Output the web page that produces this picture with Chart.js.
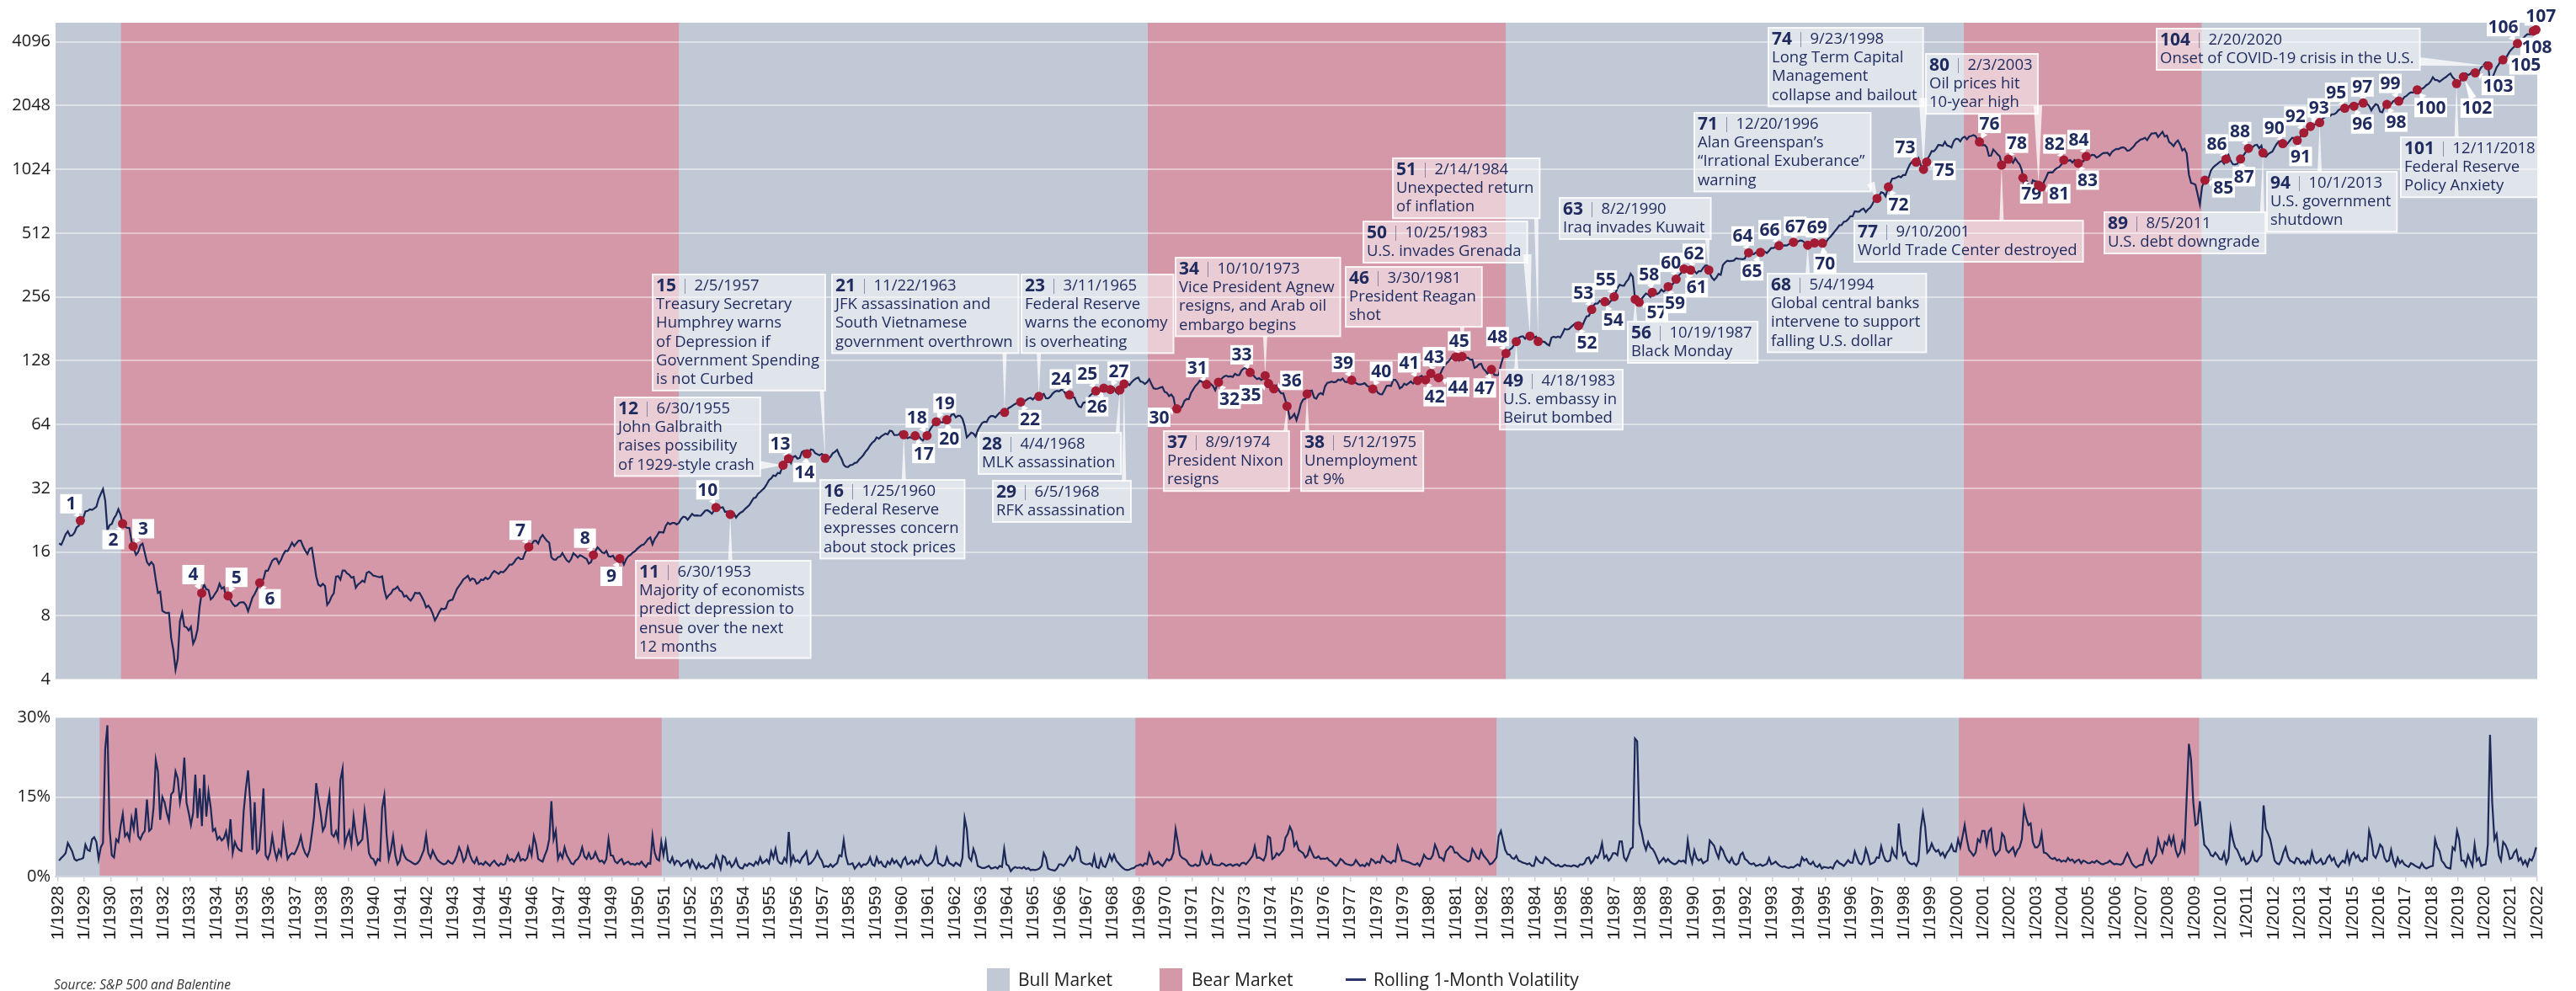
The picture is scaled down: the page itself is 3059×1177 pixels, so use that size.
<!DOCTYPE html>
<html><head><meta charset="utf-8">
<script src="https://cdn.jsdelivr.net/npm/chart.js@4.4.1/dist/chart.umd.min.js"></script>
<style>
html,body{margin:0;padding:0;background:#fff;}
#wrap{position:relative;width:3059px;height:1177px;overflow:hidden;font-family:'Open Sans',sans-serif;}
canvas{position:absolute;left:0;}
#c1{top:0;} #c2{top:830px;}
.src{position:absolute;left:64px;top:1158px;font-style:italic;font-size:15.5px;color:#333;line-height:22px;white-space:nowrap;}
.lg{position:absolute;top:1150px;height:27px;line-height:27px;font-size:21px;color:#222;white-space:nowrap;}
.sw{position:absolute;top:1150px;width:27px;height:27px;}
.ln{position:absolute;top:1162px;width:24px;height:3px;background:#2b3768;}
</style></head><body>
<div id="wrap">
<canvas id="c1" width="3059" height="830"></canvas>
<canvas id="c2" width="3059" height="347"></canvas>
<div class="src">Source: S&amp;P 500 and Balentine</div>
<div class="sw" style="left:1172px;background:#c1c8d6"></div>
<div class="lg" style="left:1209px">Bull Market</div>
<div class="sw" style="left:1377px;background:#d498a9"></div>
<div class="lg" style="left:1415px">Bear Market</div>
<div class="ln" style="left:1598px"></div>
<div class="lg" style="left:1631px">Rolling 1-Month Volatility</div>
</div>
<script>
// ===== DATA =====
const START_YEAR = 1928;
// S&P 500 monthly level, Jan 1928 - Dec 2021
const spx = [
17.53,17.32,18.25,19.40,20.00,19.04,19.16,19.73,20.87,21.29,23.04,23.14,
24.86,24.99,25.43,25.28,25.66,26.15,28.48,30.10,31.70,27.99,20.30,21.40,
21.71,23.07,23.94,25.46,23.94,21.52,21.06,20.79,20.78,17.92,16.62,15.51,
15.98,17.20,17.53,15.86,14.33,13.87,14.33,13.90,11.83,10.25,10.39,8.44,
8.30,8.23,8.26,6.28,5.51,4.45,5.01,7.53,8.26,7.12,7.05,6.82,
7.09,5.90,6.23,6.89,8.87,10.39,11.23,10.67,10.58,9.55,9.78,10.17,
10.54,11.32,10.74,10.92,9.81,9.94,9.47,9.10,8.88,8.95,9.20,9.26,
9.26,8.98,8.41,9.04,9.75,10.12,10.65,11.37,11.61,11.92,13.04,13.04,
13.76,14.55,14.86,14.88,14.09,14.69,15.56,16.20,16.15,16.86,17.69,17.06,
17.59,18.11,18.09,17.01,16.25,15.64,16.57,16.74,14.37,12.28,11.20,11.02,
11.31,11.04,9.00,9.30,9.86,10.21,12.24,12.31,11.84,13.07,13.07,12.69,
12.50,12.11,12.20,10.83,11.23,11.43,11.71,11.54,12.77,12.90,12.67,12.37,
12.30,12.22,12.15,12.27,10.58,9.67,9.99,10.20,10.63,10.73,10.98,10.52,
10.39,9.85,9.95,9.64,9.43,9.76,10.26,10.21,10.24,9.83,9.37,8.76,
8.93,8.65,8.18,7.60,7.93,8.33,8.64,8.59,8.68,9.32,9.47,9.52,
10.09,10.69,11.07,11.44,11.89,12.10,12.35,11.74,11.99,11.88,11.33,11.48,
11.85,11.77,12.10,11.89,12.10,12.67,13.00,12.81,12.60,12.91,12.82,13.10,
13.49,13.94,13.93,14.28,14.82,15.09,14.78,14.83,15.84,16.50,17.04,17.33,
18.02,18.07,17.53,18.66,19.25,18.58,18.05,17.70,15.09,14.75,14.69,15.13,
15.21,15.80,15.16,14.60,14.34,14.84,15.77,15.46,15.06,15.45,15.27,15.03,
14.83,14.10,14.30,15.40,16.15,16.82,16.42,15.94,15.76,16.19,15.29,15.19,
15.36,14.77,14.91,14.89,14.78,13.97,14.76,15.29,15.49,15.89,16.11,16.54,
16.88,17.21,17.35,17.84,18.44,18.74,17.38,18.43,19.08,19.87,19.83,19.75,
21.21,22.00,21.63,21.92,21.93,21.55,21.93,22.89,23.48,23.36,22.71,23.41,
24.19,23.75,23.81,23.74,23.73,24.38,25.08,25.18,24.78,24.26,25.03,26.04,
26.18,25.86,25.99,24.71,24.84,23.95,24.29,24.39,23.27,23.97,24.50,24.83,
25.46,26.02,26.57,27.63,28.73,28.96,30.13,30.73,31.45,32.18,33.44,34.97,
35.60,36.79,36.50,37.76,37.60,40.08,42.69,42.43,44.34,42.11,44.95,45.37,
44.15,44.43,47.49,48.05,46.54,46.27,48.78,48.49,46.84,46.24,45.76,46.44,
45.43,43.47,44.03,45.05,46.78,47.55,48.51,45.84,43.98,41.24,40.35,40.33,
41.12,41.26,42.11,42.34,43.70,44.75,45.98,47.70,48.96,50.95,52.50,53.49,
55.62,54.77,56.15,57.10,57.96,57.46,59.74,59.40,57.05,57.00,57.23,59.06,
58.03,55.78,55.02,55.73,55.22,57.26,55.84,56.51,54.81,53.73,55.47,56.80,
59.72,62.17,64.12,65.83,66.50,65.62,65.44,67.79,67.26,68.00,71.08,71.74,
69.07,70.22,70.29,68.05,62.99,55.63,56.97,58.52,58.00,56.17,60.04,62.64,
65.06,65.92,65.67,68.76,70.14,70.11,69.07,70.98,72.85,73.03,72.62,74.17,
76.45,77.39,78.80,79.94,80.72,80.24,83.22,82.00,83.41,84.85,85.44,83.96,
86.12,86.75,86.83,87.97,89.28,85.04,84.91,86.49,89.38,91.39,92.15,91.73,
93.32,92.69,88.88,91.60,86.78,86.06,85.84,80.65,77.81,77.13,80.99,81.33,
84.45,87.36,89.42,90.96,92.59,91.43,93.01,94.49,95.81,95.66,92.66,95.30,
95.04,90.75,89.09,95.67,97.87,100.53,100.30,98.11,101.34,103.76,105.40,106.48,
102.04,101.46,99.30,101.26,104.62,99.14,94.71,94.18,94.51,95.52,96.21,91.11,
90.31,87.16,88.65,85.95,76.06,75.59,75.72,77.92,82.58,84.37,84.28,90.05,
93.49,97.11,99.60,103.04,101.64,99.72,99.00,97.24,99.40,97.29,92.78,99.17,
103.30,105.24,107.69,108.81,107.65,108.01,107.21,111.01,109.39,109.56,115.05,117.50,
118.42,114.16,112.42,110.27,107.22,104.75,105.83,103.80,105.61,109.84,102.03,94.78,
96.11,93.45,97.44,92.46,89.67,89.79,82.82,76.03,68.12,69.44,71.74,67.07,
72.56,80.10,83.78,84.72,90.10,92.40,92.49,85.71,84.67,88.57,90.07,88.70,
96.86,100.64,101.08,101.93,101.16,101.77,104.20,103.29,105.45,101.89,101.19,104.66,
103.81,100.96,100.57,99.05,98.76,99.29,100.18,97.75,96.23,93.74,94.28,93.82,
90.25,88.98,88.82,92.71,97.41,97.66,97.19,103.92,103.86,100.58,94.71,96.11,
99.71,98.23,100.11,102.07,99.73,101.73,102.71,107.36,108.60,104.47,103.66,107.78,
110.87,115.34,104.69,102.97,107.69,114.55,119.83,123.50,126.51,130.22,135.65,133.48,
132.97,128.40,133.19,134.43,131.73,132.28,129.13,129.63,118.27,119.80,122.92,123.79,
117.28,114.50,110.84,116.31,116.35,109.70,109.38,109.65,122.43,132.66,138.10,139.37,
144.27,146.80,151.88,157.71,164.10,166.39,166.96,162.42,167.16,167.65,165.23,164.36,
166.39,157.25,157.44,157.60,156.55,153.12,151.08,164.42,166.11,164.82,166.27,164.48,
171.61,180.88,179.42,180.62,184.90,188.89,192.54,188.31,184.06,186.18,197.45,207.26,
208.19,219.37,232.33,237.98,238.46,245.30,240.18,245.00,238.27,237.36,245.09,248.61,
264.51,280.93,292.47,289.32,289.12,301.38,310.09,329.36,318.66,250.00,245.01,240.96,
250.48,258.13,265.74,262.61,256.12,270.68,269.05,263.73,267.97,277.40,271.02,276.51,
285.41,294.01,292.71,302.25,313.93,323.73,331.93,346.61,347.33,347.40,340.22,348.57,
339.97,330.45,338.47,338.18,350.25,360.39,360.03,330.75,315.41,307.12,315.29,328.75,
325.49,362.26,372.28,379.68,377.99,378.29,380.23,389.40,387.20,386.88,385.92,388.51,
416.08,412.56,407.36,407.41,414.81,408.27,415.05,417.93,418.48,412.50,422.84,435.64,
435.23,441.70,450.16,443.08,445.25,448.06,447.29,454.13,459.24,463.90,462.89,465.95,
472.99,471.58,463.81,447.23,450.90,454.83,451.40,464.24,466.96,463.81,461.01,455.19,
465.25,481.92,493.15,507.91,523.81,539.35,557.37,559.11,578.77,582.92,595.53,614.57,
614.42,649.54,647.07,647.17,661.23,668.50,644.07,662.68,674.88,701.46,735.67,743.25,
766.22,798.39,792.16,763.93,833.09,876.29,925.29,927.74,937.02,951.16,938.92,962.37,
963.36,1023.74,1076.83,1112.20,1108.42,1108.39,1156.58,1074.62,1020.64,1032.47,1144.43,1190.05,
1248.77,1246.58,1281.66,1334.76,1332.07,1322.55,1380.99,1327.49,1318.17,1300.01,1391.00,1428.68,
1425.59,1388.87,1442.21,1461.36,1418.48,1461.96,1473.00,1485.46,1468.05,1390.14,1375.04,1330.93,
1335.63,1305.75,1185.85,1189.84,1270.37,1238.71,1204.45,1178.50,1044.64,1076.59,1129.68,1144.93,
1140.21,1100.67,1153.79,1112.03,1079.27,1014.02,860.00,912.55,867.81,830.00,909.93,899.18,
895.84,837.62,846.62,890.03,935.96,988.00,992.54,989.53,1019.44,1038.73,1049.90,1080.64,
1132.52,1143.36,1123.98,1133.08,1102.78,1132.76,1105.85,1088.94,1117.66,1118.07,1168.94,1199.21,
1181.41,1199.63,1194.90,1164.42,1178.28,1202.26,1222.24,1224.27,1225.91,1191.96,1237.37,1262.07,
1278.72,1276.65,1293.74,1302.18,1290.00,1253.12,1260.24,1287.15,1317.81,1363.38,1388.63,1416.42,
1424.16,1444.80,1406.95,1463.65,1511.14,1514.49,1520.70,1454.62,1497.12,1539.66,1463.39,1479.22,
1378.76,1354.87,1316.94,1370.47,1403.22,1341.25,1257.33,1281.47,1217.01,968.80,883.04,877.56,
865.58,780.00,700.00,848.15,902.41,926.12,935.82,1009.72,1044.55,1067.66,1088.07,1110.38,
1123.58,1089.16,1152.05,1197.32,1125.06,1083.36,1079.80,1087.28,1122.08,1171.58,1198.89,1241.53,
1282.62,1321.12,1304.49,1331.51,1338.31,1287.29,1325.19,1185.31,1173.88,1207.22,1226.41,1243.32,
1300.58,1352.49,1389.24,1386.43,1341.27,1323.48,1359.78,1403.44,1443.42,1437.82,1394.51,1422.29,
1480.40,1512.31,1550.83,1570.70,1639.84,1618.77,1668.68,1670.09,1687.17,1720.03,1783.54,1807.78,
1822.36,1817.03,1863.52,1864.26,1889.77,1947.09,1973.10,1961.53,1993.23,1937.27,2044.57,2054.27,
2028.18,2082.20,2079.99,2094.86,2111.94,2099.29,2094.14,2039.87,1944.41,2024.81,2080.62,2054.08,
1918.60,1904.42,2021.95,2075.54,2065.55,2083.89,2148.90,2177.48,2157.69,2143.02,2164.99,2246.63,
2275.12,2329.91,2366.82,2359.31,2395.35,2433.99,2454.10,2456.22,2492.84,2557.00,2593.61,2664.34,
2789.80,2705.16,2702.77,2653.63,2701.49,2754.35,2793.64,2857.82,2901.50,2785.46,2723.23,2567.31,
2607.39,2754.86,2803.98,2903.80,2854.71,2890.17,2996.11,2897.50,2982.16,2977.68,3104.90,3176.75,
3278.20,3277.31,2652.39,2761.98,2919.62,3104.66,3207.62,3391.71,3365.52,3418.70,3548.99,3695.31,
3793.75,3883.43,3910.51,4141.18,4167.85,4238.49,4363.71,4454.21,4445.54,4460.71,4667.39,4674.77
];
// Rolling 1-month volatility (%), monthly, Jan 1928 - Dec 2021
const vol = [
3.0,3.5,3.9,4.4,6.3,5.5,4.7,3.3,3.0,3.2,3.3,3.5,
6.0,5.0,4.8,7.0,7.4,6.5,3.3,5.5,6.3,24.0,28.5,9.0,
4.0,3.6,7.0,6.5,9.5,11.8,7.6,8.2,7.0,11.0,9.0,12.9,
7.6,7.0,8.0,8.6,14.5,8.6,9.0,13.0,22.0,19.8,10.7,15.0,
14.0,12.0,10.5,15.5,16.0,19.8,18.5,14.0,16.5,22.4,13.9,12.0,
9.7,12.0,19.2,11.0,16.6,9.5,19.2,11.3,16.0,13.0,8.6,9.0,
7.0,7.5,6.8,7.2,8.5,6.0,10.8,4.4,6.5,5.5,5.0,4.8,
12.3,16.6,20.0,14.0,5.0,14.0,4.5,5.0,10.0,16.6,4.0,3.3,
4.5,7.6,5.0,3.3,5.0,4.0,9.2,6.0,3.3,4.0,4.4,4.2,
5.0,6.0,7.6,5.5,4.4,3.8,5.0,8.0,11.3,17.6,14.5,12.0,
8.6,9.5,12.9,15.5,8.0,7.5,8.5,7.0,18.2,20.3,6.0,7.5,
8.6,6.0,11.3,8.0,6.0,6.5,7.0,12.3,9.0,4.4,3.5,3.3,
2.3,3.3,3.0,12.9,15.3,8.0,3.3,5.0,7.6,4.0,2.3,3.0,
5.5,4.0,3.3,3.0,2.8,2.5,2.3,2.5,3.0,4.0,5.0,7.8,
4.4,3.5,4.9,4.0,3.2,2.8,2.5,2.3,2.4,3.0,2.6,2.4,
3.0,4.0,5.5,4.5,2.8,3.5,5.5,4.0,3.0,2.5,3.5,2.3,
2.5,2.2,2.8,2.4,2.0,2.6,3.0,2.4,2.0,2.5,2.2,2.4,
3.9,3.0,3.3,2.8,3.5,4.4,3.0,3.3,3.0,3.5,5.5,4.0,
7.6,6.0,3.3,3.0,2.8,4.0,5.0,7.0,14.2,7.0,8.6,3.3,
4.4,3.5,5.5,4.0,3.3,2.5,2.3,3.0,3.3,4.0,5.5,3.8,
3.3,4.4,3.3,3.5,4.6,3.5,2.8,3.0,2.5,3.3,7.0,4.0,
3.9,2.8,2.5,3.0,3.3,2.3,2.6,2.8,2.3,2.4,2.2,2.5,
2.3,2.8,2.2,1.8,2.5,2.4,7.6,4.5,3.3,3.0,6.5,4.0,
6.5,3.0,2.6,3.6,2.3,3.0,2.8,2.0,2.5,2.6,3.0,1.8,
3.1,2.3,1.5,2.5,1.7,2.0,1.5,1.6,2.2,2.5,1.8,3.9,
3.0,1.5,3.9,3.6,2.3,2.8,1.8,2.3,3.3,2.0,1.6,1.5,
2.3,2.0,2.5,2.3,2.0,2.8,2.3,3.6,2.5,2.8,3.2,2.5,
4.7,3.5,5.2,3.0,2.5,2.4,3.5,2.8,8.4,2.5,3.9,2.8,
3.1,2.6,3.5,4.0,4.7,2.3,2.5,3.0,3.6,4.7,3.6,3.0,
1.8,2.0,1.8,2.3,1.8,2.2,2.5,4.0,3.8,6.8,3.8,2.3,
2.3,2.5,1.5,2.0,2.5,1.8,2.3,2.2,2.6,3.6,2.3,2.0,
3.6,2.5,2.8,2.0,1.8,2.8,2.3,3.3,2.5,3.0,2.3,1.8,
3.1,3.6,2.3,2.5,3.0,2.3,3.0,2.6,3.9,3.0,2.3,2.0,
2.3,2.6,3.3,5.2,2.5,2.3,2.0,2.2,3.6,2.5,2.3,2.0,
2.6,2.3,2.0,3.5,11.0,8.9,3.6,3.0,5.2,4.0,2.0,1.8,
1.6,1.6,1.8,2.0,1.5,1.6,1.8,1.5,2.0,1.8,5.2,2.3,
2.0,1.0,1.5,1.8,1.6,1.7,1.5,1.8,1.4,1.6,1.2,1.3,
1.2,1.3,1.5,2.0,4.4,3.5,1.5,1.3,1.2,1.1,1.5,2.3,
2.3,2.0,2.5,3.3,3.9,3.0,3.5,5.5,5.0,2.8,2.5,2.3,
2.3,2.5,2.0,3.9,1.8,1.6,3.3,2.0,1.8,2.8,4.1,3.0,
4.1,3.0,2.5,2.0,1.6,1.3,1.2,1.3,1.5,1.6,2.0,2.1,
2.3,2.0,2.5,2.3,4.4,3.5,2.3,2.5,2.8,2.3,2.0,2.6,
3.3,3.0,3.3,4.5,8.9,6.5,4.0,3.5,3.3,3.0,2.3,2.0,
2.0,2.3,2.0,2.2,4.4,3.0,2.3,2.5,3.9,2.3,2.2,2.1,
2.1,2.5,2.3,2.0,2.2,2.3,2.0,2.2,2.3,2.0,2.5,2.6,
2.3,2.8,3.3,3.9,5.7,3.5,3.6,3.3,3.0,4.0,7.6,7.3,
3.3,3.6,4.4,4.0,4.5,5.0,7.3,8.0,9.4,8.5,5.8,6.5,
5.0,4.7,4.4,3.6,4.0,5.5,4.5,3.6,3.5,3.8,3.3,3.4,
3.3,3.5,3.0,2.8,2.3,2.0,2.5,3.3,3.0,2.5,2.3,2.2,
2.1,2.3,3.1,2.5,2.0,2.2,1.9,2.5,2.1,3.3,3.0,2.5,
2.8,2.6,3.9,3.5,2.9,2.8,2.5,3.0,2.8,5.7,4.5,3.0,
3.0,2.8,2.7,2.5,2.3,2.2,2.5,2.0,2.8,4.1,3.5,3.3,
3.3,4.0,6.0,5.0,3.6,3.5,3.0,4.7,5.2,5.7,5.5,4.5,
4.5,4.0,3.6,3.3,3.1,2.8,3.0,5.2,4.5,3.6,3.3,4.9,
4.0,3.5,3.0,2.3,2.5,3.0,3.6,7.6,8.6,6.7,5.0,4.2,
4.1,3.5,3.3,3.9,3.0,2.8,2.6,2.5,2.3,2.5,2.0,2.0,
3.6,3.0,2.6,2.5,3.6,3.3,3.0,2.5,2.3,2.0,2.2,1.9,
1.9,2.2,2.0,2.0,1.9,2.1,2.0,1.8,2.3,2.2,2.5,3.4,
3.6,2.5,3.0,3.9,3.5,4.5,6.3,3.5,4.0,3.0,3.5,4.4,
4.4,4.0,6.6,6.6,3.6,3.0,4.0,5.2,5.5,26.0,25.5,10.0,
8.4,6.3,5.0,6.5,5.5,5.2,4.5,3.5,2.5,3.0,3.5,2.8,
3.3,2.8,2.5,2.3,2.5,3.0,2.8,3.0,2.6,6.8,4.0,2.6,
4.9,3.5,3.0,3.3,2.5,2.8,3.0,6.8,6.3,5.8,4.5,3.5,
5.5,4.9,3.8,3.0,2.6,3.5,2.5,2.2,2.5,4.1,4.5,3.3,
3.0,2.5,2.3,2.5,2.0,2.1,2.3,2.0,2.2,2.4,3.5,2.3,
2.5,2.8,2.3,2.0,1.8,1.9,1.7,1.6,1.8,1.7,2.0,2.3,
2.0,3.6,3.0,3.3,2.5,2.3,2.8,2.0,1.8,2.3,1.5,1.8,
1.7,1.6,1.8,1.5,2.5,3.0,2.5,2.3,2.0,2.5,3.1,2.6,
2.6,4.7,3.5,2.5,2.3,3.0,5.2,4.0,2.3,2.5,2.7,3.6,
3.5,5.7,4.0,3.0,2.8,3.0,5.2,4.0,3.5,10.0,6.0,4.0,
4.5,3.0,2.5,2.3,2.5,2.0,3.0,9.0,12.0,9.4,4.5,5.0,
6.2,5.2,4.7,5.0,4.0,4.5,3.6,4.5,5.0,6.0,4.8,4.7,
7.0,5.5,7.5,9.7,7.0,5.0,4.5,3.9,4.5,7.0,6.5,8.6,
8.6,6.0,8.5,9.0,5.0,4.0,4.5,5.0,8.1,7.5,5.0,4.5,
5.0,5.5,4.0,5.0,5.5,7.0,12.9,11.0,9.7,10.0,6.5,5.5,
5.5,6.0,8.1,4.5,4.4,4.0,3.5,3.3,3.5,3.0,3.2,2.8,
3.0,2.8,3.5,3.0,3.2,2.6,3.0,3.2,2.5,3.0,2.8,2.5,
2.5,2.8,2.6,3.0,2.7,2.4,2.3,2.5,2.6,3.0,2.6,2.3,
2.4,2.3,2.2,2.5,3.5,4.4,3.5,2.5,2.0,1.7,2.0,2.2,
2.2,3.9,5.0,3.0,2.5,3.3,4.0,7.0,5.5,4.5,6.5,6.0,
7.5,6.0,7.5,5.0,3.8,4.5,6.5,5.0,15.0,25.0,22.0,14.0,
9.7,10.0,14.2,10.0,6.0,5.5,5.0,4.0,3.8,4.5,4.0,3.3,
3.2,4.5,2.5,3.5,9.2,7.0,5.5,5.0,4.0,3.0,3.5,2.3,
2.5,3.0,4.5,3.0,2.8,3.5,4.0,13.4,9.0,8.1,7.0,5.0,
3.0,2.5,2.3,3.0,4.5,5.5,3.8,3.0,2.8,2.5,3.5,3.3,
2.5,2.8,2.3,3.0,2.5,4.6,3.0,2.5,2.8,3.3,2.3,2.5,
3.5,4.0,3.0,3.5,2.3,1.8,2.5,3.0,2.6,4.5,2.5,4.0,
4.5,3.5,4.0,3.0,2.8,3.5,3.2,8.6,7.0,4.0,3.5,4.5,
6.0,5.5,3.5,2.8,3.0,5.0,3.0,2.0,3.5,2.5,3.0,2.3,
2.0,1.8,2.5,2.3,2.0,1.8,1.6,2.5,1.8,1.5,1.7,1.9,
2.0,7.0,5.5,4.8,3.0,2.5,1.8,1.6,1.5,5.5,5.0,8.6,
7.0,3.0,3.0,2.0,4.0,3.0,2.0,6.0,3.0,3.5,2.0,2.2,
2.3,6.0,26.7,14.0,7.0,8.0,4.0,3.0,6.5,6.0,5.0,3.3,
3.5,4.5,5.0,3.0,3.5,2.3,3.0,2.0,3.3,3.0,4.0,5.5
];
const yTickVals = [4,8,16,32,64,128,256,512,1024,2048,4096];
const volTickVals = [0,15,30];
const xTickYears = [1928,1929,1930,1931,1932,1933,1934,1935,1936,1937,1938,1939,1940,1941,1942,1943,1944,1945,1946,1947,1948,1949,1950,1951,1952,1953,1954,1955,1956,1957,1958,1959,1960,1961,1962,1963,1964,1965,1966,1967,1968,1969,1970,1971,1972,1973,1974,1975,1976,1977,1978,1979,1980,1981,1982,1983,1984,1985,1986,1987,1988,1989,1990,1991,1992,1993,1994,1995,1996,1997,1998,1999,2000,2001,2002,2003,2004,2005,2006,2007,2008,2009,2010,2011,2012,2013,2014,2015,2016,2017,2018,2019,2020,2021,2022];
const topBearPeriods = [[1930.39,1951.54],[1969.32,1982.89],[2000.26,2009.27]];
const volBearPeriods = [[1929.58,1950.89],[1968.85,1982.54],[2000.07,2009.18]];
// event n = index+1, time as fractional year
const eventTimes = [
1928.85,1930.45,1930.85,1933.45,1934.45,1935.65,1945.85,1948.3,1949.3,1952.95,
1953.49,1955.49,1955.7,1956.4,1957.09,1960.07,1960.5,1960.95,1961.3,1961.7,
1963.89,1964.5,1965.19,1966.35,1967.35,1967.65,1967.9,1968.26,1968.42,1970.42,
1971.55,1972.0,1973.2,1973.77,1973.9,1974.1,1974.6,1975.36,1977.05,1977.85,
1979.55,1979.85,1980.05,1980.35,1981.0,1981.24,1982.35,1982.9,1983.29,1983.81,
1984.12,1985.65,1986.15,1986.65,1987.0,1987.8,1987.95,1988.45,1989.05,1989.35,
1989.65,1989.9,1990.59,1992.1,1992.55,1993.25,1993.8,1994.34,1994.6,1994.9,
1996.97,1997.4,1998.45,1998.73,1998.85,2000.85,2001.69,2001.95,2002.5,2003.09,
2003.2,2004.05,2004.6,2004.9,2009.4,2010.2,2010.75,2011.05,2011.6,2012.35,
2012.9,2013.15,2013.4,2013.75,2014.7,2015.05,2015.4,2016.3,2016.75,2017.45,
2018.94,2019.2,2019.65,2020.14,2020.7,2021.25,2021.85,2021.95
];
const calloutNums = [11,12,15,16,21,23,28,29,34,37,38,46,49,50,51,56,63,68,71,74,77,80,89,94,101,104];
const calloutDates = ['6/30/1953','6/30/1955','2/5/1957','1/25/1960','11/22/1963','3/11/1965','4/4/1968','6/5/1968','10/10/1973','8/9/1974','5/12/1975','3/30/1981','4/18/1983','10/25/1983','2/14/1984','10/19/1987','8/2/1990','5/4/1994','12/20/1996','9/23/1998','9/10/2001','2/3/2003','8/5/2011','10/1/2013','12/11/2018','2/20/2020'];
const calloutTexts = [
['Majority of economists','predict depression to','ensue over the next','12 months'],
['John Galbraith','raises possibility','of 1929-style crash'],
['Treasury Secretary','Humphrey warns','of Depression if','Government Spending','is not Curbed'],
['Federal Reserve','expresses concern','about stock prices'],
['JFK assassination and','South Vietnamese','government overthrown'],
['Federal Reserve','warns the economy','is overheating'],
['MLK assassination'],
['RFK assassination'],
['Vice President Agnew','resigns, and Arab oil','embargo begins'],
['President Nixon','resigns'],
['Unemployment','at 9%'],
['President Reagan','shot'],
['U.S. embassy in','Beirut bombed'],
['U.S. invades Grenada'],
['Unexpected return','of inflation'],
['Black Monday'],
['Iraq invades Kuwait'],
['Global central banks','intervene to support','falling U.S. dollar'],
['Alan Greenspan\u2019s','\u201CIrrational Exuberance\u201D','warning'],
['Long Term Capital','Management','collapse and bailout'],
['World Trade Center destroyed'],
['Oil prices hit','10-year high'],
['U.S. debt downgrade'],
['U.S. government','shutdown'],
['Federal Reserve','Policy Anxiety'],
['Onset of COVID-19 crisis in the U.S.']
];

// ===== LAYOUT (annotation placement, px) =====
const calloutPos = {11:[755,666],12:[730,472],15:[775,326],16:[974,570],21:[988,326],23:[1213,326],28:[1162,514],29:[1179,571],34:[1396,306],37:[1382,512],38:[1545,512],46:[1598,317],49:[1781,439],50:[1619,263],51:[1654,188],56:[1933,382],63:[1852,235],68:[2099,325],71:[2012,134],74:[2100,33],77:[2202,262],80:[2287,64],89:[2499,252],94:[2692,204],101:[2851,163],104:[2561,34]};
const labelOffsets = {1:[-11,-20],2:[-11,19],3:[12,-21],4:[-10,-22],5:[10,-22],6:[12,19],7:[-10,-20],8:[-10,-20],9:[-10,21],10:[-10,-21],
13:[-10,-18],14:[-3,22],17:[10,21],18:[-12,-21],19:[10,-22],20:[3,22],22:[11,21],24:[-10,-19],25:[-10,-20],26:[-8,22],27:[10,-22],
30:[-21,10],31:[-11,-20],32:[13,20],33:[-10,-21],35:[-21,13],36:[21,-10],39:[-10,-21],40:[10,-21],41:[-10,-21],42:[11,20],43:[4,-20],
44:[23,11],45:[4,-19],47:[-8,22],48:[-10,-20],52:[10,20],53:[-10,-20],54:[10,22],55:[-10,-20],57:[21,12],58:[-4,-21],59:[8,20],
60:[-6,-20],61:[15,22],62:[4,-20],64:[-7,-20],65:[-10,22],66:[-11,-19],67:[2,-19],69:[3,-18],70:[3,24],72:[12,21],73:[-13,-17],
75:[21,10],76:[12,-22],78:[10,-19],79:[10,19],81:[21,8],82:[-11,-19],83:[11,20],84:[-9,-20],85:[22,9],86:[-11,-18],87:[4,21],
88:[-10,-20],90:[-10,-19],91:[4,19],92:[-10,-20],93:[10,-22],95:[-10,-19],96:[10,21],97:[-1,-19],98:[11,21],99:[-10,-21],
100:[16,21],102:[16,37],103:[27,15],105:[27,6],106:[-17,-20],107:[9,-18],108:[1,21]};

// ===== STYLE =====
const BULL='#c1c8d6', BEAR='#d498a9', NAVY='#1c2857', RED='#a41b34', TXT='#1f2b5e';
const GRID='rgba(255,255,255,0.45)';
const X_MIN=1927.91, X_MAX=2022.0;
const FONT="'Open Sans', 'Noto Sans', sans-serif";

const monthX = i => START_YEAR + (i + 0.5)/12;
const spxPts = spx.map((v,i)=>({x:monthX(i), y:v}));
const volPts = vol.map((v,i)=>({x:monthX(i), y:v}));
function spxAt(t){
  let f = (t-START_YEAR)*12 - 0.5;
  f = Math.max(0, Math.min(spx.length-1, f));
  const i = Math.floor(f), r = f-i;
  const a = spx[i], b = spx[Math.min(i+1, spx.length-1)];
  return Math.exp(Math.log(a)*(1-r) + Math.log(b)*r);
}
const eventPts = eventTimes.map(t=>({x:t, y:spxAt(t)}));

const shadePlugin = {
  id:'shade',
  beforeDraw(chart, args, opts){
    const {ctx, chartArea:a} = chart, x = chart.scales.x;
    ctx.save();
    ctx.fillStyle = BULL; ctx.fillRect(a.left, a.top, a.right-a.left, a.bottom-a.top);
    ctx.fillStyle = BEAR;
    for (const [s,e] of opts.periods){
      const x1 = Math.max(a.left, x.getPixelForValue(s)), x2 = Math.min(a.right, x.getPixelForValue(e));
      ctx.fillRect(x1, a.top, x2-x1, a.bottom-a.top);
    }
    ctx.restore();
  }
};

function wedge(ctx, bx, by, tx, ty, half, color){
  const dx = tx-bx, dy = ty-by, L = Math.hypot(dx,dy);
  if (L < 1) return;
  const px = -dy/L*half, py = dx/L*half;
  ctx.beginPath();
  ctx.moveTo(bx+px, by+py); ctx.lineTo(tx, ty); ctx.lineTo(bx-px, by-py); ctx.closePath();
  ctx.fillStyle = color; ctx.fill();
}

function drawNumLabel(ctx, n, cx, cy, p){
  ctx.font = "bold 21px " + FONT;
  const tw = ctx.measureText(String(n)).width;
  const w = Math.max(26, tw + 3), h = 23;
  const dx = p.x - cx, dy = p.y - cy;
  const s = Math.min((w/2)/Math.max(Math.abs(dx),1e-6), (h/2)/Math.max(Math.abs(dy),1e-6));
  if (s < 1){
    const ex = cx + dx*s, ey = cy + dy*s, L = Math.hypot(dx,dy);
    const tx = p.x - dx/L*4, ty = p.y - dy/L*4;
    if (Math.hypot(tx-ex, ty-ey) > 2) wedge(ctx, ex, ey, tx, ty, 4.5, '#ffffff');
  }
  ctx.fillStyle = '#ffffff';
  ctx.fillRect(cx - w/2, cy - h/2, w, h);
  ctx.fillStyle = TXT; ctx.textAlign = 'center'; ctx.textBaseline = 'middle';
  ctx.fillText(String(n), cx, cy + 1);
}

function drawCallout(ctx, n, date, lines, pos, p){
  const [L, T] = pos;
  const NUMF = "bold 21px " + FONT, BODYF = "18.5px " + FONT;
  ctx.font = NUMF; const nw = ctx.measureText(String(n)).width;
  ctx.font = BODYF; const dw = ctx.measureText(date).width;
  let W = 4 + nw + 10 + 11 + dw + 7;
  for (const s of lines) W = Math.max(W, 4 + ctx.measureText(s).width + 7);
  const H = 49 + (lines.length-1)*22.2;
  const PC = 'rgba(255,255,255,0.75)';
  if (p.x >= L && p.x <= L+W){
    const x = Math.max(L+4, Math.min(L+W-4, p.x));
    if (p.y < T) wedge(ctx, x, T, p.x, p.y, 2.5, PC);
    else if (p.y > T+H) wedge(ctx, x, T+H, p.x, p.y, 2.5, PC);
  } else {
    const by = Math.max(T+10, Math.min(T+H-10, p.y));
    const bx = p.x > L+W ? L+W : L;
    wedge(ctx, bx, by, p.x, p.y, 5, PC);
  }
  ctx.fillStyle = 'rgba(255,255,255,0.5)';
  ctx.fillRect(L, T, W, H);
  ctx.strokeStyle = 'rgba(255,255,255,0.85)'; ctx.lineWidth = 2;
  ctx.strokeRect(L, T, W, H);
  ctx.textAlign = 'left'; ctx.textBaseline = 'middle'; ctx.fillStyle = TXT;
  ctx.font = NUMF; ctx.fillText(String(n), L+4, T+14);
  const sx = Math.round(L + 4 + nw + 10) + 0.5;
  ctx.strokeStyle = 'rgba(31,43,94,0.45)'; ctx.lineWidth = 1;
  ctx.beginPath(); ctx.moveTo(sx, T+5); ctx.lineTo(sx, T+23); ctx.stroke();
  ctx.font = BODYF; ctx.fillText(date, sx + 11, T+14);
  lines.forEach((s,i)=> ctx.fillText(s, L+4, T+36+i*22.2));
}

const annotPlugin = {
  id:'annot',
  afterDatasetDraw(chart, args){
    if (chart.data.datasets[args.index].label !== 'spx') return;
    const ctx = chart.ctx, xs = chart.scales.x, ys = chart.scales.y;
    const P = n => ({x: xs.getPixelForValue(eventPts[n-1].x), y: ys.getPixelForValue(eventPts[n-1].y)});
    ctx.save();
    calloutNums.forEach((n,i)=> drawCallout(ctx, n, calloutDates[i], calloutTexts[i], calloutPos[n], P(n)));
    for (let n=1; n<=eventTimes.length; n++){
      if (calloutNums.includes(n)) continue;
      const o = labelOffsets[n] || [0,-20], p = P(n);
      drawNumLabel(ctx, n, p.x+o[0], p.y+o[1], p);
    }
    ctx.restore();
  }
};

new Chart(document.getElementById('c1'), {
  type:'line',
  data:{datasets:[
    {label:'events', data:eventPts, showLine:false, pointRadius:5.5, pointHoverRadius:5.5, pointBackgroundColor:RED, pointBorderWidth:0, order:0, clip:false},
    {label:'spx', data:spxPts, borderColor:NAVY, borderWidth:2.2, pointRadius:0, tension:0, order:1}
  ]},
  options:{
    responsive:false, animation:false, devicePixelRatio:1, events:[],
    layout:{padding:{top:27, right:46, bottom:23, left:0}},
    plugins:{legend:{display:false}, tooltip:{enabled:false}, shade:{periods:topBearPeriods}},
    scales:{
      x:{type:'linear', display:false, min:X_MIN, max:X_MAX},
      y:{type:'logarithmic', min:4, max:5042,
         afterBuildTicks:s=>{ s.ticks = yTickVals.map(v=>({value:v})); },
         afterFit:s=>{ s.width = 66; },
         grid:{color:GRID, lineWidth:2, drawTicks:false},
         border:{display:false},
         ticks:{padding:6, color:'#1a1a1a', font:{family:FONT, size:20}, callback:v=>String(v)}}
    }
  },
  plugins:[shadePlugin, annotPlugin]
});

new Chart(document.getElementById('c2'), {
  type:'line',
  data:{datasets:[
    {label:'Rolling 1-Month Volatility', data:volPts, borderColor:NAVY, borderWidth:2.2, pointRadius:0, tension:0}
  ]},
  options:{
    responsive:false, animation:false, devicePixelRatio:1, events:[],
    layout:{padding:{top:22, right:46, bottom:0, left:0}},
    plugins:{legend:{display:false}, tooltip:{enabled:false}, shade:{periods:volBearPeriods}},
    scales:{
      x:{type:'linear', min:X_MIN, max:X_MAX,
         afterBuildTicks:s=>{ s.ticks = xTickYears.map(v=>({value:v})); },
         afterFit:s=>{ s.height = 136; },
         grid:{drawOnChartArea:false, drawTicks:true, tickLength:6, color:'#cfd4df', tickColor:'#cfd4df', lineWidth:1.5},
         border:{display:true, color:'#cfd4df', width:2},
         ticks:{autoSkip:false, maxRotation:90, minRotation:90, padding:5, color:'#222',
                font:{family:"'Liberation Sans', Arial, sans-serif", size:21}, callback:v=>'1/'+v}},
      y:{min:0, max:30,
         afterBuildTicks:s=>{ s.ticks = volTickVals.map(v=>({value:v})); },
         afterFit:s=>{ s.width = 66; },
         grid:{color:GRID, lineWidth:2, drawTicks:false},
         border:{display:false},
         ticks:{padding:6, color:'#1a1a1a', font:{family:FONT, size:20}, callback:v=>v+'%'}}
    }
  },
  plugins:[shadePlugin]
});
</script>
</body></html>
